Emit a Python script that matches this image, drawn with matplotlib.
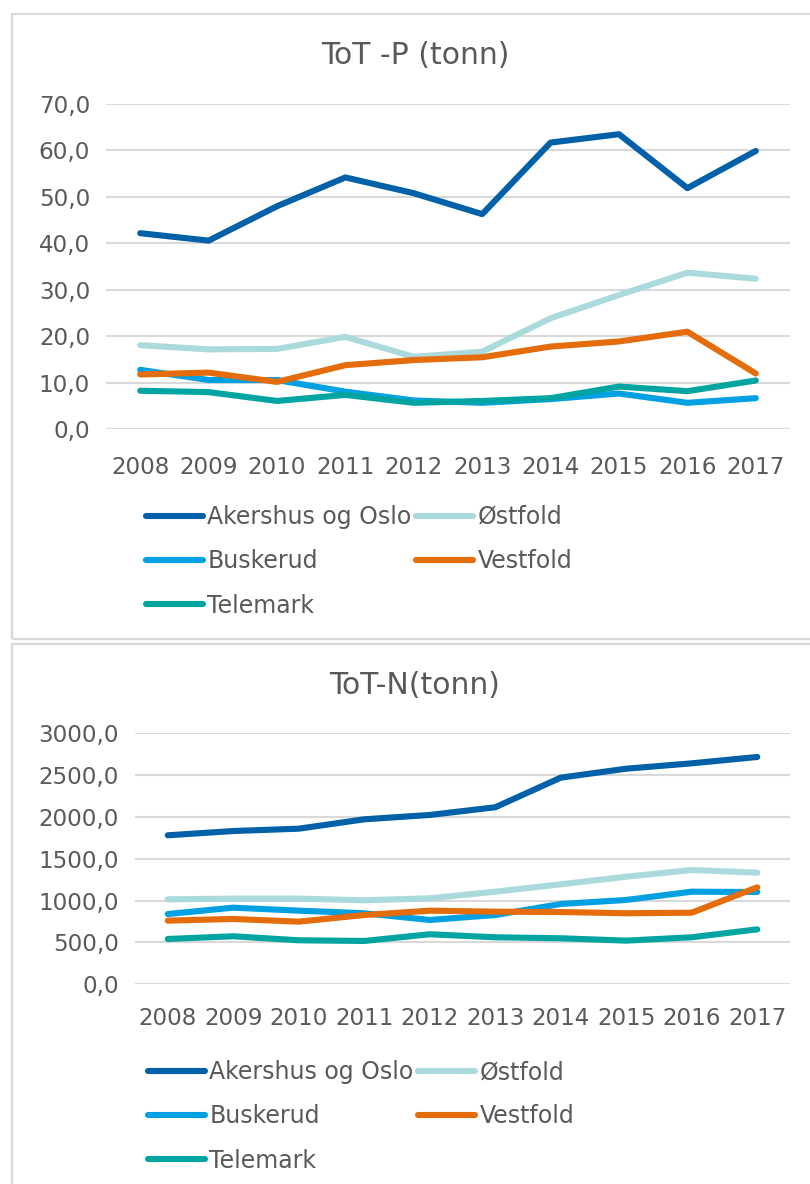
import matplotlib
matplotlib.use("Agg")
import matplotlib.pyplot as plt
from matplotlib.patches import Rectangle
from matplotlib.ticker import FuncFormatter, MultipleLocator

years = ["2008", "2009", "2010", "2011", "2012", "2013", "2014", "2015", "2016", "2017"]
regions = ["Akershus og Oslo", "Østfold", "Buskerud", "Vestfold", "Telemark"]
colors = ["#0060A8", "#AADADC", "#00A0E3", "#E46C0A", "#00A5A2"]

# Total phosphorus (tonnes)
p_akershus = [42.2, 40.6, 48.0, 54.2, 50.8, 46.3, 61.7, 63.5, 51.9, 59.9]
p_ostfold = [18.1, 17.2, 17.3, 19.9, 15.6, 16.7, 23.9, 28.9, 33.7, 32.4]
p_buskerud = [12.8, 10.6, 10.6, 8.1, 6.2, 5.7, 6.5, 7.7, 5.7, 6.7]
p_vestfold = [11.8, 12.2, 10.2, 13.8, 14.9, 15.5, 17.8, 18.9, 21.0, 12.0]
p_telemark = [8.3, 8.0, 6.1, 7.4, 5.7, 6.1, 6.7, 9.2, 8.2, 10.5]

# Total nitrogen (tonnes)
n_akershus = [1781, 1832, 1860, 1972, 2024, 2116, 2470, 2577, 2641, 2717]
n_ostfold = [1016, 1024, 1024, 1004, 1028, 1107, 1195, 1286, 1366, 1334]
n_buskerud = [840, 916, 880, 849, 769, 828, 960, 1008, 1107, 1103]
n_vestfold = [761, 781, 749, 828, 880, 868, 864, 849, 856, 1159]
n_telemark = [542, 574, 526, 518, 598, 562, 550, 522, 562, 657]

TEXT = "#595959"
GRID = "#D9D9D9"
FONT = "DejaVu Sans"

plt.rcParams["font.family"] = FONT

W, H = 810, 1184
fig = plt.figure(figsize=(W / 100, H / 100), dpi=100)


def fx(px):
    return px / W


def fy(py):
    return 1 - py / H


# Chart frames
for top, bottom in [(14, 639), (644, 1200)]:
    fig.patches.append(Rectangle((fx(12), fy(bottom)), fx(820) - fx(12), fy(top) - fy(bottom),
                                 transform=fig.transFigure, fill=False,
                                 edgecolor=GRID, linewidth=1.6, zorder=0))


def comma(v, _pos):
    return f"{v:.1f}".replace(".", ",")


def draw(rect, series, ymax, step, title, title_y, legend_xy, xpad):
    ax = fig.add_axes(rect)
    x = list(range(len(years)))
    handles = []
    for name, vals, c in zip(regions, series, colors):
        (ln,) = ax.plot(x, vals, color=c, linewidth=4.4, solid_capstyle="round",
                        solid_joinstyle="round", label=name, zorder=3)
        handles.append(ln)
    ax.set_xlim(-0.5, len(years) - 0.5)
    ax.set_ylim(0, ymax)
    ax.yaxis.set_major_locator(MultipleLocator(step))
    ax.yaxis.set_major_formatter(FuncFormatter(comma))
    ax.set_xticks(x)
    ax.set_xticklabels(years)
    ax.grid(axis="y", color=GRID, linewidth=1.5, zorder=0)
    ax.set_axisbelow(True)
    for s in ax.spines.values():
        s.set_visible(False)
    ax.tick_params(axis="both", length=0, labelsize=16.6, colors=TEXT)
    ax.tick_params(axis="y", pad=11.5)
    ax.tick_params(axis="x", pad=xpad)
    fig.text(fx(415), fy(title_y), title, ha="center", va="center",
             fontsize=21.5, color=TEXT)
    # legend filled row by row: two columns, three rows
    order = [0, 2, 4, 1, 3]
    leg = fig.legend(handles=[handles[i] for i in order], loc="upper left",
                     bbox_to_anchor=(fx(legend_xy[0]), fy(legend_xy[1])),
                     bbox_transform=fig.transFigure, ncol=2, frameon=False,
                     fontsize=17, handlelength=2.4, handletextpad=0.2,
                     columnspacing=0.2, labelspacing=0.86, borderpad=0,
                     borderaxespad=0)
    for t in leg.get_texts():
        t.set_color(TEXT)
    return ax


draw([fx(106), fy(429.3), fx(790) - fx(106), fy(104) - fy(429.3)],
     [p_akershus, p_ostfold, p_buskerud, p_vestfold, p_telemark],
     70, 10, "ToT -P (tonn)", 55, (146, 505), 19)

draw([fx(135), fy(984.3), fx(790) - fx(135), fy(733.3) - fy(984.3)],
     [n_akershus, n_ostfold, n_buskerud, n_vestfold, n_telemark],
     3000, 500, "ToT-N(tonn)", 686, (148, 1060), 16)

fig.savefig("out.png", dpi=100)
